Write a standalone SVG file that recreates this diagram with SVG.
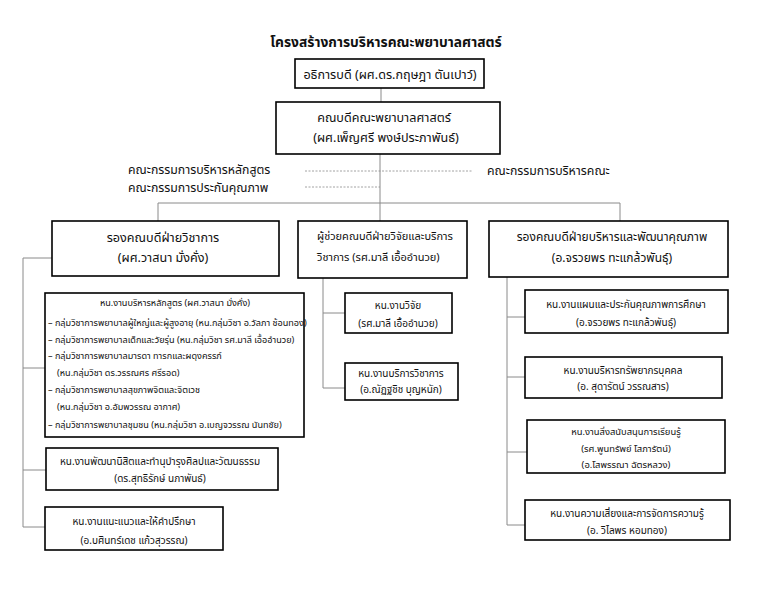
<svg xmlns="http://www.w3.org/2000/svg" width="776" height="600" viewBox="0 0 776 600">
<style>
text{font-family:"Noto Sans Thai","Tahoma","Loma","Garuda","Liberation Sans",sans-serif;fill:#111;text-anchor:middle}
.box{fill:#fff;stroke:#000;stroke-width:1.6}
.c{fill:none;stroke:#8a8a8a;stroke-width:1}
.d{fill:none;stroke:#8a8a8a;stroke-width:0.8;stroke-dasharray:2 1.5}
.t1{font-size:12.6px}
.t2{font-size:11px}
.t3{font-size:10px}
.t4{font-size:9.1px}
.t5{font-size:9.4px}
.cm{font-size:12.3px;text-anchor:start}
.l{text-anchor:start}
</style>
<rect width="776" height="600" fill="#fff"/>
<text x="386" y="47" style="font-size:13.8px;font-weight:bold">โครงสร้างการบริหารคณะพยาบาลศาสตร์</text>
<g id="connectors">
<line class="c" x1="381" y1="88" x2="381" y2="102"/>
<line class="c" x1="380" y1="154" x2="380" y2="221"/>
<line class="c" x1="158" y1="203" x2="620" y2="203"/>
<line class="c" x1="158" y1="203" x2="158" y2="221"/>
<line class="c" x1="620" y1="203" x2="620" y2="221"/>
<line class="d" x1="305" y1="171" x2="473" y2="171"/>
<line class="d" x1="305" y1="187" x2="380" y2="187"/>
<polyline class="c" points="52,258 23,258 23,527 45,527"/>
<line class="c" x1="23" y1="368" x2="45" y2="368"/>
<line class="c" x1="23" y1="470" x2="46" y2="470"/>
<polyline class="c" points="323,278 323,388 345,388"/>
<line class="c" x1="323" y1="313" x2="345" y2="313"/>
<polyline class="c" points="507,277 507,525 525,525"/>
<line class="c" x1="507" y1="317" x2="525" y2="317"/>
<line class="c" x1="507" y1="377" x2="525" y2="377"/>
<line class="c" x1="507" y1="452" x2="527" y2="452"/>
</g>
<g id="president">
<rect class="box" x="295" y="59" width="189" height="29"/>
<text class="t1" x="390" y="79">อธิการบดี (ผศ.ดร.กฤษฎา ตันเปาว์)</text>
</g>
<g id="dean">
<rect class="box" x="276" y="102" width="224" height="52"/>
<text class="t1" x="384" y="122">คณบดีคณะพยาบาลศาสตร์</text>
<text class="t1" x="386" y="142">(ผศ.เพ็ญศรี พงษ์ประภาพันธ์)</text>
</g>
<g id="committees">
<text class="cm" x="128" y="174">คณะกรรมการบริหารหลักสูตร</text>
<text class="cm" x="128" y="192">คณะกรรมการประกันคุณภาพ</text>
<text class="cm" x="487" y="175">คณะกรรมการบริหารคณะ</text>
</g>
<g id="vp-academic">
<rect class="box" x="52" y="221" width="227" height="55"/>
<text class="t1" x="163" y="242">รองคณบดีฝ่ายวิชาการ</text>
<text class="t1" x="163" y="262">(ผศ.วาสนา  มั่งคั่ง)</text>
</g>
<g id="asst-research">
<rect class="box" x="298" y="221" width="169" height="57"/>
<text class="t2 l" x="317" y="240">ผู้ช่วยคณบดีฝ่ายวิจัยและบริการ</text>
<text class="t2 l" x="317" y="261">วิชาการ (รศ.มาลี เอื้ออำนวย)</text>
</g>
<g id="vp-admin">
<rect class="box" x="489" y="221" width="239" height="56"/>
<text style="font-size:12px" x="612" y="241">รองคณบดีฝ่ายบริหารและพัฒนาคุณภาพ</text>
<text style="font-size:12px" x="612" y="262">(อ.จรวยพร ทะแกล้วพันธุ์)</text>
</g>
<g id="curriculum">
<rect class="box" x="45" y="293" width="259" height="144"/>
<text class="t4" x="175" y="306">หน.งานบริหารหลักสูตร (ผศ.วาสนา  มั่งคั่ง)</text>
<text class="t4 l" x="48" y="326">–  กลุ่มวิชาการพยาบาลผู้ใหญ่และผู้สูงอายุ (หน.กลุ่มวิชา อ.วัลภา ช้อนทอง)</text>
<text class="t4 l" x="48" y="343">–  กลุ่มวิชาการพยาบาลเด็กและวัยรุ่น (หน.กลุ่มวิชา รศ.มาลี เอื้ออำนวย)</text>
<text class="t4 l" x="48" y="359">–  กลุ่มวิชาการพยาบาลมารดา ทารกและผดุงครรภ์</text>
<text class="t4 l" x="57" y="376">(หน.กลุ่มวิชา ดร.วรรณศร ศรีรอด)</text>
<text class="t4 l" x="48" y="393">–  กลุ่มวิชาการพยาบาลสุขภาพจิตและจิตเวช</text>
<text class="t4 l" x="57" y="410">(หน.กลุ่มวิชา อ.อัมพวรรณ อากาศ)</text>
<text class="t4 l" x="48" y="428">–  กลุ่มวิชาการพยาบาลชุมชน (หน.กลุ่มวิชา อ.เบญจวรรณ นันทชัย)</text>
</g>
<g id="student-affairs">
<rect class="box" x="46" y="448" width="232" height="42"/>
<text class="t3" x="160" y="465">หน.งานพัฒนานิสิตและทำนุบำรุงศิลปและวัฒนธรรม</text>
<text class="t3" x="160" y="482">(ดร.สุทธิรักษ์ นภาพันธ์)</text>
</g>
<g id="guidance">
<rect class="box" x="45" y="507" width="178" height="43"/>
<text class="t3" x="134" y="525">หน.งานแนะแนวและให้คำปรึกษา</text>
<text class="t3" x="134" y="544">(อ.บศินทร์เดช แก้วสุวรรณ)</text>
</g>
<g id="research">
<rect class="box" x="345" y="293" width="107" height="40"/>
<text class="t3" x="398" y="309">หน.งานวิจัย</text>
<text class="t3" x="398" y="327">(รศ.มาลี เอื้ออำนวย)</text>
</g>
<g id="academic-service">
<rect class="box" x="345" y="363" width="113" height="37"/>
<text class="t3" x="401" y="377">หน.งานบริการวิชาการ</text>
<text class="t3" x="401" y="393">(อ.ณัฏฐชิช บุญหนัก)</text>
</g>
<g id="qa">
<rect class="box" x="525" y="290" width="203" height="43"/>
<text class="t3" x="626" y="308">หน.งานแผนและประกันคุณภาพการศึกษา</text>
<text class="t3" x="626" y="326">(อ.จรวยพร ทะแกล้วพันธุ์)</text>
</g>
<g id="hr">
<rect class="box" x="525" y="357" width="197" height="41"/>
<text class="t3" x="623" y="374">หน.งานบริหารทรัพยากรบุคคล</text>
<text class="t3" x="623" y="390">(อ. สุดารัตน์ วรรณสาร)</text>
</g>
<g id="learning">
<rect class="box" x="527" y="420" width="198" height="53"/>
<text class="t5" x="626" y="435">หน.งานสิ่งสนับสนุนการเรียนรู้</text>
<text class="t5" x="626" y="452">(รศ.พูนทรัพย์ โสภารัตน์)</text>
<text class="t5" x="626" y="468">(อ.โสพรรณา ฉัตรหลวง)</text>
</g>
<g id="risk">
<rect class="box" x="525" y="500" width="205" height="40"/>
<text class="t3" x="627" y="517">หน.งานความเสี่ยงและการจัดการความรู้</text>
<text class="t3" x="627" y="534">(อ. วิไลพร หอมทอง)</text>
</g>
</svg>
